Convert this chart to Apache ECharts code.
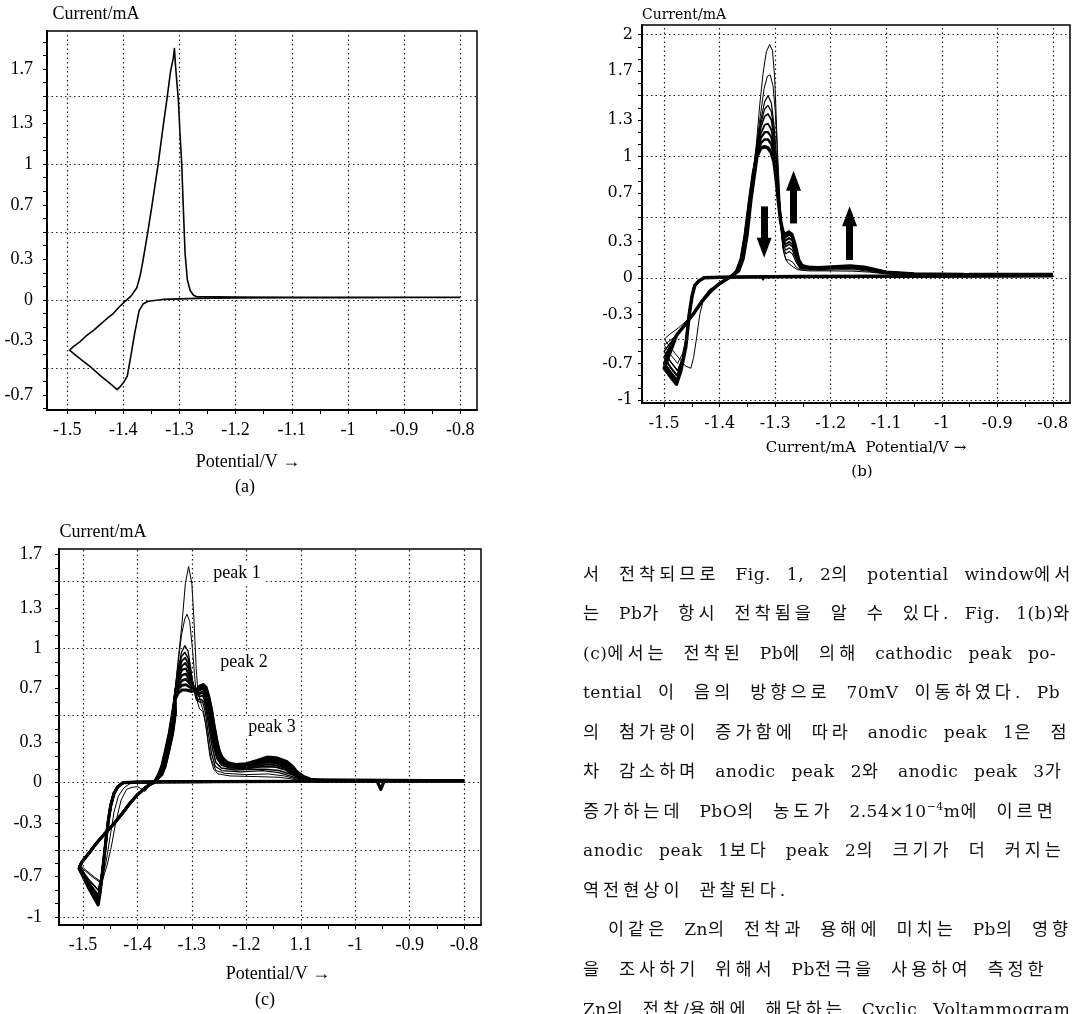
<!DOCTYPE html>
<html><head><meta charset="utf-8">
<script src="https://cdn.jsdelivr.net/npm/echarts@6/dist/echarts.min.js"></script>
<style>
html,body{margin:0;padding:0;background:#fff;overflow:hidden;width:1082px;height:1014px;}
#chart{position:absolute;left:0;top:0;width:1082px;height:1014px;}
#para{position:absolute;left:0;top:0;width:1082px;height:1014px;pointer-events:none;overflow:hidden;}
.ln{position:absolute;left:583px;height:38px;line-height:38px;white-space:nowrap;font-family:"DejaVu Serif",serif;font-size:17px;letter-spacing:0.5px;word-spacing:10px;color:#111;}
.ln .k{font-family:"Noto Sans CJK KR",sans-serif;font-size:17.5px;letter-spacing:4px;}
.ln sup{font-size:11px;line-height:0;}
</style></head>
<body>
<div id="chart"></div>
<div id="para"></div>
<script>
// ---------- axis labels / ticks ----------
const xLabelValues = [-1.5,-1.4,-1.3,-1.2,-1.1,-1.0,-0.9,-0.8];
const xLabelTextAB = ['-1.5','-1.4','-1.3','-1.2','-1.1','-1','-0.9','-0.8'];
const xLabelTextC  = ['-1.5','-1.4','-1.3','-1.2','1.1','-1','-0.9','-0.8'];
const xTickValues = [-1.5,-1.45,-1.4,-1.35,-1.3,-1.25,-1.2,-1.15,-1.1,-1.05,-1.0,-0.95,-0.9,-0.85,-0.8];
const yLabelsA = [1.7,1.3,1,0.7,0.3,0,-0.3,-0.7];
const yLabelsB = [2,1.7,1.3,1,0.7,0.3,0,-0.3,-0.7,-1];
const yLabelsC = [1.7,1.3,1,0.7,0.3,0,-0.3,-0.7,-1];
const yGridA = [1.5,1,0.5,0,-0.5];
const yGridB = [2,1.5,1,0.5,0,-0.5,-1];
const yGridC = [1.5,1,0.5,0,-0.5,-1];
const xGridLines = [-1.5,-1.4,-1.3,-1.2,-1.1,-1.0,-0.9,-0.8];

// ---------- panel (a) ----------
const aCurve = [[-0.80,0.018],[-0.90,0.018],[-1.00,0.017],[-1.10,0.016],[-1.20,0.014],[-1.27,0.012],[-1.30,0.008],[-1.33,0.004],[-1.356,-0.01],[-1.365,-0.03],[-1.372,-0.08],[-1.38,-0.25],[-1.387,-0.42],[-1.393,-0.56],[-1.40,-0.61],[-1.406,-0.64],[-1.411,-0.66],[-1.425,-0.61],[-1.44,-0.56],[-1.459,-0.49],[-1.478,-0.43],[-1.496,-0.37],[-1.488,-0.34],[-1.478,-0.31],[-1.465,-0.26],[-1.452,-0.22],[-1.441,-0.18],[-1.43,-0.14],[-1.418,-0.10],[-1.407,-0.05],[-1.397,-0.01],[-1.386,0.03],[-1.376,0.09],[-1.370,0.18],[-1.365,0.29],[-1.356,0.51],[-1.347,0.75],[-1.338,1.00],[-1.330,1.25],[-1.322,1.49],[-1.316,1.68],[-1.311,1.78],[-1.309,1.85],[-1.307,1.72],[-1.302,1.47],[-1.299,1.22],[-1.296,1.00],[-1.293,0.66],[-1.290,0.34],[-1.286,0.15],[-1.281,0.07],[-1.275,0.035],[-1.27,0.025],[-1.20,0.022],[-1.10,0.02],[-1.00,0.02],[-0.90,0.02],[-0.80,0.02]];

// ---------- panel (b) ----------
const bBase = [[-0.80,0.02],[-0.95,0.018],[-1.10,0.016],[-1.25,0.014],[-1.36,0.01]];
const bDrop = [[-1.40,0.008],[-1.428,0.004],[-1.437,-0.02],[-1.445,-0.06],[-1.45,-0.15],[-1.455,-0.3]];
const bRet = [[-1.478,-0.47],[-1.462,-0.38],[-1.447,-0.29],[-1.432,-0.19],[-1.417,-0.11],[-1.402,-0.05],[-1.39,-0.015],[-1.378,0.02]];
const bRise = [[-1.37,0.06],[-1.362,0.16],[-1.355,0.35],[-1.347,0.64],[-1.34,0.87]];
const bRise2 = [[-1.366,0.06],[-1.358,0.16],[-1.351,0.35],[-1.344,0.64],[-1.337,0.87]];
const b1Loop = [[-1.38,0.005],[-1.395,-0.02],[-1.405,-0.06],[-1.418,-0.09],[-1.428,-0.15],[-1.436,-0.3],[-1.442,-0.5],[-1.447,-0.65],[-1.452,-0.74],[-1.462,-0.72],[-1.48,-0.62],[-1.50,-0.50],[-1.49,-0.46],[-1.475,-0.41],[-1.46,-0.35],[-1.445,-0.27],[-1.43,-0.18],[-1.415,-0.1],[-1.40,-0.045],[-1.388,-0.01],[-1.378,0.02]];
const b1Top = [[-1.334,1.1],[-1.328,1.42],[-1.322,1.68],[-1.316,1.86],[-1.31,1.92],[-1.305,1.87],[-1.301,1.65],[-1.298,1.3],[-1.295,0.95],[-1.291,0.6],[-1.288,0.35],[-1.284,0.2],[-1.278,0.13],[-1.27,0.1],[-1.26,0.07],[-1.24,0.06],[-1.2,0.06],[-1.16,0.058],[-1.13,0.05],[-1.1,0.035],[-1.05,0.03],[-0.9,0.028],[-0.8,0.028]];
const b2Loop = [[-1.46,-0.48],[-1.467,-0.62],[-1.476,-0.70],[-1.488,-0.63],[-1.50,-0.55],[-1.492,-0.52]];
const b2Top = [[-1.334,1.08],[-1.327,1.33],[-1.32,1.56],[-1.314,1.66],[-1.309,1.67],[-1.304,1.58],[-1.3,1.38],[-1.297,1.1],[-1.294,0.78],[-1.29,0.45],[-1.286,0.24],[-1.281,0.15],[-1.275,0.15],[-1.268,0.13],[-1.262,0.09],[-1.255,0.07],[-1.22,0.065],[-1.18,0.07],[-1.15,0.068],[-1.12,0.05],[-1.1,0.04],[-1.05,0.032],[-0.9,0.03],[-0.8,0.03]];
const b3Loop = [[-1.46,-0.5],[-1.467,-0.66],[-1.476,-0.76],[-1.488,-0.69],[-1.50,-0.60],[-1.492,-0.55]];
const b3Top = [[-1.333,1.08],[-1.326,1.3],[-1.319,1.45],[-1.313,1.5],[-1.307,1.44],[-1.302,1.25],[-1.298,1.0],[-1.294,0.7],[-1.29,0.42],[-1.286,0.25],[-1.281,0.2],[-1.275,0.22],[-1.269,0.2],[-1.262,0.13],[-1.255,0.08],[-1.23,0.072],[-1.19,0.078],[-1.16,0.078],[-1.13,0.065],[-1.1,0.045],[-1.05,0.033],[-0.9,0.03],[-0.8,0.03]];
const b3bTop = [[-1.333,1.07],[-1.326,1.27],[-1.319,1.39],[-1.313,1.42],[-1.307,1.37],[-1.302,1.2],[-1.298,0.97],[-1.294,0.69],[-1.29,0.44],[-1.286,0.28],[-1.281,0.23],[-1.275,0.25],[-1.269,0.23],[-1.262,0.15],[-1.255,0.085],[-1.23,0.073],[-1.19,0.08],[-1.16,0.081],[-1.13,0.068],[-1.1,0.046],[-1.05,0.033],[-0.9,0.03],[-0.8,0.03]];
const b4Loop = [[-1.46,-0.52],[-1.468,-0.7],[-1.477,-0.80],[-1.489,-0.73],[-1.50,-0.65],[-1.492,-0.58]];
const b4Top = [[-1.333,1.06],[-1.326,1.24],[-1.319,1.33],[-1.313,1.35],[-1.307,1.3],[-1.302,1.15],[-1.298,0.95],[-1.294,0.68],[-1.29,0.45],[-1.286,0.3],[-1.281,0.26],[-1.275,0.28],[-1.269,0.26],[-1.262,0.17],[-1.255,0.09],[-1.23,0.075],[-1.19,0.082],[-1.16,0.083],[-1.13,0.07],[-1.1,0.047],[-1.05,0.034],[-0.9,0.03],[-0.8,0.03]];
const b4bTop = [[-1.333,1.05],[-1.326,1.19],[-1.319,1.26],[-1.313,1.27],[-1.307,1.22],[-1.302,1.1],[-1.298,0.91],[-1.294,0.67],[-1.29,0.45],[-1.286,0.32],[-1.281,0.28],[-1.275,0.3],[-1.269,0.28],[-1.262,0.18],[-1.255,0.095],[-1.23,0.078],[-1.19,0.085],[-1.16,0.086],[-1.13,0.072],[-1.1,0.047],[-1.05,0.034],[-0.9,0.03],[-0.8,0.03]];
const b5Loop = [[-1.461,-0.54],[-1.469,-0.73],[-1.477,-0.84],[-1.489,-0.77],[-1.50,-0.70],[-1.492,-0.61]];
const b5Top = [[-1.333,1.03],[-1.326,1.15],[-1.319,1.2],[-1.313,1.2],[-1.307,1.16],[-1.302,1.05],[-1.298,0.88],[-1.294,0.66],[-1.29,0.46],[-1.286,0.34],[-1.281,0.31],[-1.275,0.33],[-1.269,0.31],[-1.262,0.2],[-1.255,0.1],[-1.23,0.08],[-1.19,0.088],[-1.16,0.09],[-1.13,0.075],[-1.1,0.048],[-1.05,0.035],[-0.9,0.03],[-0.8,0.03]];
const b5bTop = [[-1.333,1.01],[-1.326,1.11],[-1.319,1.14],[-1.313,1.14],[-1.307,1.1],[-1.302,1.0],[-1.298,0.84],[-1.294,0.64],[-1.29,0.46],[-1.286,0.36],[-1.281,0.34],[-1.275,0.36],[-1.269,0.34],[-1.262,0.23],[-1.255,0.11],[-1.23,0.082],[-1.19,0.092],[-1.16,0.095],[-1.13,0.08],[-1.1,0.05],[-1.05,0.035],[-0.9,0.03],[-0.8,0.03]];
const b6Loop = [[-1.461,-0.56],[-1.47,-0.76],[-1.478,-0.87],[-1.49,-0.8],[-1.50,-0.74],[-1.492,-0.64]];
const b6Top = [[-1.333,1.0],[-1.326,1.07],[-1.319,1.08],[-1.313,1.07],[-1.307,1.03],[-1.302,0.95],[-1.298,0.8],[-1.294,0.62],[-1.29,0.46],[-1.286,0.38],[-1.281,0.36],[-1.276,0.38],[-1.27,0.36],[-1.264,0.27],[-1.258,0.15],[-1.25,0.09],[-1.22,0.085],[-1.19,0.095],[-1.165,0.1],[-1.14,0.09],[-1.12,0.07],[-1.1,0.05],[-1.05,0.035],[-0.96,0.03],[-0.955,0.012],[-0.95,0.03],[-0.8,0.03]];
const bLowerDip = [[-1.30,0.012],[-1.318,0.012],[-1.322,-0.015],[-1.326,0.012],[-1.34,0.01]];

// ---------- panel (c) ----------
const cBase = [[-0.80,0.012],[-0.95,0.011],[-1.10,0.01],[-1.25,0.008],[-1.35,0.006]];
const cDrop = [[-1.40,0.004],[-1.426,0.0],[-1.436,-0.03],[-1.443,-0.08],[-1.449,-0.17],[-1.453,-0.27],[-1.457,-0.4],[-1.461,-0.55]];
const cRet = [[-1.502,-0.59],[-1.488,-0.52],[-1.475,-0.45],[-1.46,-0.38],[-1.444,-0.31],[-1.428,-0.23],[-1.413,-0.15],[-1.40,-0.09],[-1.389,-0.05],[-1.378,-0.015],[-1.37,0.0]];
const cRise = [[-1.362,0.06],[-1.356,0.12],[-1.349,0.24],[-1.342,0.37],[-1.336,0.52]];
const cRise2 = [[-1.358,0.06],[-1.352,0.12],[-1.345,0.24],[-1.338,0.37],[-1.333,0.52]];
const cRise3 = [[-1.355,0.06],[-1.349,0.12],[-1.342,0.24],[-1.335,0.37],[-1.33,0.52]];
const c1Loop = [[-1.372,0.0],[-1.38,-0.03],[-1.386,-0.066],[-1.393,-0.045],[-1.40,-0.03],[-1.41,-0.035],[-1.42,-0.05],[-1.43,-0.13],[-1.44,-0.3],[-1.448,-0.48],[-1.456,-0.62],[-1.466,-0.75],[-1.48,-0.71],[-1.495,-0.66],[-1.507,-0.62]];
const c1Top = [[-1.331,0.68],[-1.325,0.92],[-1.318,1.19],[-1.312,1.48],[-1.306,1.61],[-1.30,1.48],[-1.296,1.2],[-1.292,0.85],[-1.289,0.68],[-1.284,0.6],[-1.278,0.52],[-1.272,0.36],[-1.267,0.2],[-1.26,0.1],[-1.252,0.065],[-1.23,0.05],[-1.18,0.045],[-1.14,0.04],[-1.12,0.03],[-1.10,0.015],[-1.05,0.012],[-0.8,0.014]];
const c2Loop = [[-1.40,0.004],[-1.415,-0.01],[-1.425,-0.04],[-1.435,-0.1],[-1.443,-0.22],[-1.45,-0.4],[-1.457,-0.58],[-1.466,-0.74],[-1.48,-0.70],[-1.495,-0.65],[-1.506,-0.61]];
const c2Top = [[-1.331,0.68],[-1.325,0.9],[-1.319,1.1],[-1.313,1.22],[-1.309,1.255],[-1.304,1.2],[-1.299,1.0],[-1.295,0.8],[-1.291,0.62],[-1.286,0.55],[-1.28,0.53],[-1.275,0.45],[-1.27,0.3],[-1.264,0.17],[-1.256,0.09],[-1.24,0.07],[-1.2,0.06],[-1.16,0.065],[-1.13,0.05],[-1.11,0.03],[-1.09,0.015],[-1.0,0.012],[-0.8,0.014]];
const c3Loop = [[-1.465,-0.66],[-1.469,-0.75],[-1.472,-0.80],[-1.49,-0.72],[-1.507,-0.62]];
const c3Top = [[-1.331,0.68],[-1.325,0.85],[-1.319,0.97],[-1.313,1.02],[-1.307,0.98],[-1.302,0.85],[-1.297,0.7],[-1.292,0.62],[-1.286,0.6],[-1.28,0.6],[-1.275,0.52],[-1.27,0.37],[-1.264,0.22],[-1.257,0.12],[-1.245,0.09],[-1.21,0.08],[-1.17,0.09],[-1.14,0.075],[-1.12,0.05],[-1.10,0.025],[-1.08,0.012],[-0.8,0.014]];
const c3bTop = [[-1.331,0.67],[-1.325,0.83],[-1.319,0.94],[-1.313,0.97],[-1.307,0.93],[-1.301,0.8],[-1.295,0.68],[-1.289,0.62],[-1.283,0.62],[-1.277,0.6],[-1.272,0.5],[-1.267,0.37],[-1.262,0.25],[-1.256,0.15],[-1.246,0.11],[-1.22,0.095],[-1.19,0.1],[-1.165,0.1],[-1.14,0.09],[-1.12,0.065],[-1.10,0.03],[-1.08,0.014],[-0.8,0.014]];
const c4Loop = [[-1.465,-0.68],[-1.469,-0.78],[-1.472,-0.84],[-1.49,-0.74],[-1.507,-0.63]];
const c4Top = [[-1.331,0.67],[-1.325,0.82],[-1.318,0.91],[-1.312,0.93],[-1.306,0.88],[-1.300,0.76],[-1.293,0.67],[-1.286,0.64],[-1.28,0.65],[-1.275,0.6],[-1.27,0.5],[-1.265,0.38],[-1.26,0.27],[-1.254,0.18],[-1.245,0.13],[-1.23,0.11],[-1.2,0.105],[-1.18,0.115],[-1.162,0.12],[-1.145,0.115],[-1.128,0.095],[-1.112,0.055],[-1.095,0.03],[-1.08,0.016],[-0.8,0.014]];
const c4bTop = [[-1.331,0.66],[-1.325,0.8],[-1.318,0.87],[-1.312,0.89],[-1.306,0.85],[-1.299,0.74],[-1.292,0.67],[-1.286,0.66],[-1.28,0.67],[-1.275,0.63],[-1.27,0.53],[-1.265,0.41],[-1.26,0.3],[-1.254,0.2],[-1.245,0.145],[-1.23,0.12],[-1.2,0.112],[-1.18,0.125],[-1.162,0.135],[-1.145,0.13],[-1.128,0.108],[-1.112,0.062],[-1.095,0.032],[-1.08,0.017],[-0.8,0.014]];
const c5Loop = [[-1.465,-0.69],[-1.469,-0.8],[-1.472,-0.87],[-1.49,-0.76],[-1.507,-0.63]];
const c5Top = [[-1.331,0.66],[-1.325,0.78],[-1.318,0.84],[-1.311,0.85],[-1.305,0.8],[-1.299,0.72],[-1.292,0.67],[-1.285,0.67],[-1.279,0.68],[-1.274,0.64],[-1.269,0.55],[-1.264,0.44],[-1.259,0.32],[-1.253,0.22],[-1.245,0.16],[-1.235,0.13],[-1.22,0.115],[-1.2,0.12],[-1.18,0.135],[-1.162,0.15],[-1.145,0.145],[-1.128,0.12],[-1.112,0.07],[-1.095,0.035],[-1.08,0.018],[-0.8,0.014]];
const c5bTop = [[-1.331,0.65],[-1.325,0.75],[-1.318,0.8],[-1.311,0.81],[-1.305,0.77],[-1.298,0.71],[-1.291,0.68],[-1.285,0.69],[-1.279,0.7],[-1.274,0.66],[-1.269,0.58],[-1.264,0.47],[-1.259,0.35],[-1.253,0.24],[-1.245,0.17],[-1.235,0.135],[-1.22,0.12],[-1.2,0.125],[-1.18,0.142],[-1.162,0.16],[-1.145,0.155],[-1.127,0.13],[-1.111,0.075],[-1.095,0.038],[-1.08,0.019],[-0.8,0.014]];
const c6Loop = [[-1.465,-0.7],[-1.469,-0.82],[-1.472,-0.89],[-1.49,-0.77],[-1.507,-0.64]];
const c6Top = [[-1.331,0.64],[-1.325,0.72],[-1.318,0.76],[-1.311,0.77],[-1.304,0.74],[-1.297,0.7],[-1.29,0.69],[-1.284,0.7],[-1.279,0.71],[-1.274,0.68],[-1.269,0.6],[-1.264,0.5],[-1.259,0.38],[-1.253,0.26],[-1.245,0.18],[-1.235,0.14],[-1.22,0.125],[-1.2,0.13],[-1.18,0.15],[-1.162,0.17],[-1.145,0.165],[-1.127,0.14],[-1.11,0.08],[-1.095,0.04],[-1.08,0.02],[-0.8,0.014]];
const c6bTop = [[-1.331,0.63],[-1.325,0.7],[-1.318,0.725],[-1.311,0.73],[-1.303,0.71],[-1.296,0.69],[-1.289,0.69],[-1.283,0.71],[-1.278,0.72],[-1.273,0.69],[-1.268,0.62],[-1.263,0.52],[-1.259,0.41],[-1.253,0.29],[-1.246,0.19],[-1.236,0.145],[-1.22,0.13],[-1.2,0.135],[-1.18,0.158],[-1.162,0.18],[-1.145,0.175],[-1.126,0.148],[-1.111,0.09],[-1.097,0.045],[-1.082,0.022],[-0.8,0.015]];
const c7Loop = [[-1.465,-0.7],[-1.469,-0.83],[-1.472,-0.91],[-1.49,-0.78],[-1.507,-0.64]];
const c7Top = [[-1.331,0.62],[-1.325,0.67],[-1.318,0.69],[-1.31,0.69],[-1.30,0.68],[-1.292,0.69],[-1.285,0.72],[-1.279,0.73],[-1.274,0.71],[-1.269,0.64],[-1.264,0.54],[-1.26,0.44],[-1.255,0.33],[-1.251,0.24],[-1.243,0.18],[-1.235,0.15],[-1.22,0.135],[-1.2,0.14],[-1.18,0.165],[-1.162,0.19],[-1.145,0.185],[-1.125,0.155],[-1.115,0.12],[-1.107,0.08],[-1.095,0.045],[-1.082,0.025],[-1.06,0.015],[-0.96,0.014],[-0.953,-0.05],[-0.947,0.012],[-0.8,0.016]];

// ---------- arrows in (b): [x, from y, to y] ----------
const bArrows = [[-1.32,0.59,0.25],[-1.267,0.45,0.80],[-1.166,0.15,0.51]];

// ---------- paragraph ----------
const paraLines = [
 '서 전착되므로 Fig. 1, 2의 potential window에서',
 '는 Pb가 항시 전착됨을 알 수 있다. Fig. 1(b)와',
 '(c)에서는 전착된 Pb에 의해 cathodic peak po-',
 'tential 이 음의 방향으로 70mV 이동하였다. Pb',
 '의 첨가량이 증가함에 따라 anodic peak 1은 점',
 '차 감소하며 anodic peak 2와 anodic peak 3가',
 '증가하는데 PbO의 농도가 2.54×10<sup>−4</sup>m에 이르면',
 'anodic peak 1보다 peak 2의 크기가 더 커지는',
 '역전현상이 관찰된다.',
 '이같은 Zn의 전착과 용해에 미치는 Pb의 영향',
 '을 조사하기 위해서 Pb전극을 사용하여 측정한',
 'Zn의 전착/용해에 해당하는 Cyclic Voltammogram'
];
const paraCenters = [573,612,652,691,731,770,810,849,889,928,968,1008];
const paraIndent = [0,0,0,0,0,0,0,0,0,25,0,0];

const para = document.getElementById('para');
paraLines.forEach((t,i)=>{
  const d = document.createElement('div');
  d.className='ln';
  d.style.top = (paraCenters[i]-19)+'px';
  d.style.left = (583+paraIndent[i])+'px';
  d.innerHTML = t.replace(/([\uAC00-\uD7AF]+)/g,'<span class="k">$1</span>');
  para.appendChild(d);
});

// ---------- chart ----------
const chart = echarts.init(document.getElementById('chart'), null, {renderer:'canvas'});
function range01(lo,hi){const o=[];for(let k=Math.ceil(lo*10-1e-9);k<=Math.floor(hi*10+1e-9);k++)o.push(k/10);return o;}
function lab(values,texts){return function(v){for(let i=0;i<values.length;i++){if(Math.abs(values[i]-v)<1e-6)return texts[i];}return '';};}
function fmtY(v){return String(Math.round(v*10)/10);}

const panels = [
  {grid:{left:47,top:31,width:430,height:379}, xmin:-1.536, xmax:-0.77, ymin:-0.81, ymax:1.98, ylabels:yLabelsA, ygrid:yGridA, xtext:xLabelTextAB, font:'Liberation Serif', fs:18, ym:14, xm:11},
  {grid:{left:642,top:25,width:428,height:378}, xmin:-1.54, xmax:-0.769, ymin:-1.025, ymax:2.08, ylabels:yLabelsB, ygrid:yGridB, xtext:xLabelTextAB, font:'DejaVu Serif', fs:16, ym:9, xm:13},
  {grid:{left:59,top:549,width:422,height:376}, xmin:-1.544, xmax:-0.769, ymin:-1.06, ymax:1.74, ylabels:yLabelsC, ygrid:yGridC, xtext:xLabelTextC, font:'Liberation Serif', fs:18, ym:17, xm:11}
];

const grids=[], xAxes=[], yAxes=[], series=[];
panels.forEach((p,i)=>{
  grids.push(Object.assign({show:true,borderColor:'#000',borderWidth:1.5,backgroundColor:'transparent',containLabel:false,outerBoundsMode:'none'},p.grid));
  xAxes.push({type:'value',gridIndex:i,min:p.xmin,max:p.xmax,
    axisLine:{show:true,onZero:false,lineStyle:{color:'#000',width:2}},
    axisTick:{show:true,length:4,customValues:xTickValues,lineStyle:{color:'#000',width:1}},
    axisLabel:{customValues:xLabelValues,formatter:lab(xLabelValues,p.xtext),margin:p.xm,color:'#000',fontFamily:p.font,fontSize:p.fs},
    splitLine:{show:false}});
  yAxes.push({type:'value',gridIndex:i,min:p.ymin,max:p.ymax,
    axisLine:{show:true,onZero:false,lineStyle:{color:'#000',width:2}},
    axisTick:{show:true,length:4,customValues:range01(p.ymin,p.ymax),lineStyle:{color:'#000',width:1}},
    axisLabel:{customValues:p.ylabels,formatter:fmtY,margin:p.ym,color:'#000',fontFamily:p.font,fontSize:p.fs},
    splitLine:{show:false}});
  const ml=[];
  p.ygrid.forEach(v=>ml.push({yAxis:v}));
  xGridLines.forEach(v=>ml.push({xAxis:v}));
  series.push({type:'line',xAxisIndex:i,yAxisIndex:i,data:[],z:1,silent:true,
    markLine:{silent:true,symbol:'none',animation:false,label:{show:false},
      lineStyle:{type:[1.5,3],color:'#222',width:1.2},data:ml}});
});

function curve(i,data,w){
  series.push({type:'line',xAxisIndex:i,yAxisIndex:i,data:data,showSymbol:false,symbol:'none',
    z:3,silent:true,animation:false,lineStyle:{color:'#000',width:w,join:'round'}});
}
curve(0,aCurve,1.6);

curve(1,[].concat(bBase,b1Loop,bRise,b1Top),1);
curve(1,[].concat(bBase,bDrop,b2Loop,bRet,bRise,b2Top),1);
curve(1,[].concat(bBase,bDrop,b3Loop,bRet,bRise2,b3Top),1.2);
curve(1,[].concat(bBase,bDrop,b3Loop,bRet,bRise,b3bTop),1.2);
curve(1,[].concat(bBase,bDrop,b4Loop,bRet,bRise2,b4Top),1.6);
curve(1,[].concat(bBase,bDrop,b4Loop,bRet,bRise,b4bTop),1.8);
curve(1,[].concat(bBase,bDrop,b5Loop,bRet,bRise2,b5Top),2.2);
curve(1,[].concat(bBase,bDrop,b5Loop,bRet,bRise,b5bTop),2.5);
curve(1,[].concat(bBase,bDrop,b6Loop,bRet,bRise2,b6Top),3.5);
curve(1,bLowerDip,1.2);

curve(2,[].concat(cBase,c1Loop,cRet,cRise,c1Top),1);
curve(2,[].concat(cBase,c2Loop,cRet,cRise,c2Top),1);
curve(2,[].concat(cBase,cDrop,c3Loop,cRet,cRise2,c3Top),1.3);
curve(2,[].concat(cBase,cDrop,c3Loop,cRet,cRise,c3bTop),1.5);
curve(2,[].concat(cBase,cDrop,c4Loop,cRet,cRise3,c4Top),1.8);
curve(2,[].concat(cBase,cDrop,c4Loop,cRet,cRise2,c4bTop),2);
curve(2,[].concat(cBase,cDrop,c5Loop,cRet,cRise3,c5Top),2.2);
curve(2,[].concat(cBase,cDrop,c5Loop,cRet,cRise,c5bTop),2.4);
curve(2,[].concat(cBase,cDrop,c6Loop,cRet,cRise2,c6Top),2.6);
curve(2,[].concat(cBase,cDrop,c6Loop,cRet,cRise3,c6bTop),2.8);
curve(2,[].concat(cBase,cDrop,c7Loop,cRet,cRise2,c7Top),3.2);

series.push({type:'line',xAxisIndex:1,yAxisIndex:1,data:[],z:5,silent:true,
  markLine:{silent:true,animation:false,symbol:['none','triangle'],symbolSize:[15,20],label:{show:false},
    lineStyle:{type:'solid',color:'#000',width:7},
    data:bArrows.map(a=>[{coord:[a[0],a[1]]},{coord:[a[0],a[2]]}])}});

function txt(x,y,s,font,fs){
  return {type:'text',x:x,y:y,silent:true,z:10,
    style:{text:s,fontFamily:font,fontSize:fs,fill:'#000',align:'center',verticalAlign:'middle'}};
}
const graphics = [
  txt(96,14,'Current/mA','Liberation Serif',18),
  txt(248,462,'Potential/V →','Liberation Serif',18),
  txt(245,487,'(a)','Liberation Serif',18),
  txt(684,15,'Current/mA','DejaVu Serif',14),
  txt(866,448,'Current/mA  Potential/V →','DejaVu Serif',15),
  txt(862,472,'(b)','DejaVu Serif',15),
  txt(103,532,'Current/mA','Liberation Serif',18),
  txt(278,974,'Potential/V →','Liberation Serif',18),
  txt(265,1000,'(c)','Liberation Serif',18)
];
const peakLabels = [['peak 1',237,573],['peak 2',244,662],['peak 3',272,727]];
peakLabels.forEach(p=>{
  const g = txt(p[1],p[2],p[0],'Liberation Serif',18);
  g.style.backgroundColor='#fff'; g.style.padding=[2,5];
  graphics.push(g);
});

chart.setOption({
  animation:false,
  backgroundColor:'#fff',
  grid:grids, xAxis:xAxes, yAxis:yAxes, series:series, graphic:graphics
});
</script>
</body></html>
